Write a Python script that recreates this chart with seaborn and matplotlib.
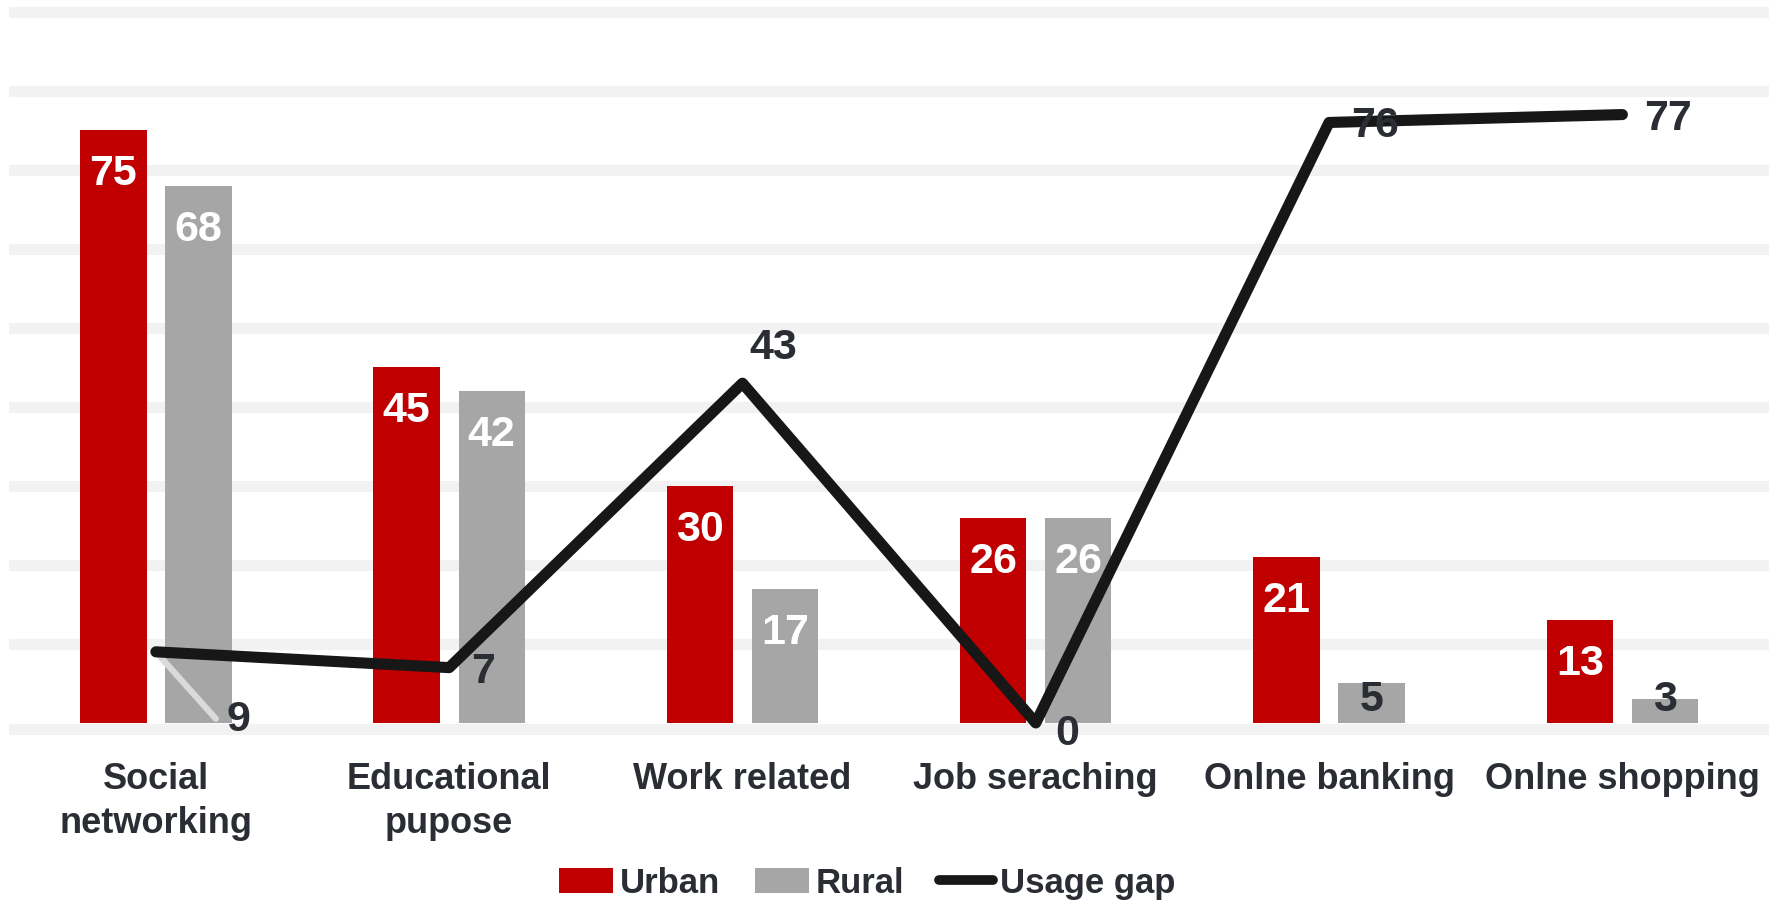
import numpy as np
import pandas as pd
import matplotlib
matplotlib.use("Agg")
import matplotlib.pyplot as plt
import seaborn as sns
from matplotlib.patches import Patch
from matplotlib.lines import Line2D

# ---- data ----
categories = ["Social\nnetworking", "Educational\npupose", "Work related",
              "Job seraching", "Onlne banking", "Onlne shopping"]
urban = [75, 45, 30, 26, 21, 13]
rural = [68, 42, 17, 26, 5, 3]
usage_gap = [9, 7, 43, 0, 76, 77]
series_names = ["Urban", "Rural"]
gap_name = "Usage gap"

# ---- styles ----
RED = "#C00000"
GRAY = "#A6A6A6"
LINE = "#171717"
TXT = "#2A2D33"
GRID = "#F2F2F2"
LEADER = "#DADADA"
PX = 72 / 100.0  # points per pixel at dpi 100

sns.set_theme(style="white")
plt.rcParams["font.family"] = ["Liberation Sans", "DejaVu Sans"]
plt.rcParams["font.weight"] = "bold"

df = pd.DataFrame({
    "category": categories * 2,
    "series": [series_names[0]] * len(categories) + [series_names[1]] * len(categories),
    "value": urban + rural,
})

fig = plt.figure(figsize=(17.74, 9.02), dpi=100)
ax = fig.add_axes([0.0052, 0.181, 0.992, 0.819])
ax.set_axisbelow(True)

sns.barplot(data=df, x="category", y="value", hue="series", hue_order=series_names,
            palette=[RED, GRAY], width=0.58, gap=0.22, saturation=1,
            legend=False, errorbar=None, linewidth=0, ax=ax)

sns.lineplot(x=categories, y=usage_gap, sort=False, color=LINE, linewidth=8,
             solid_capstyle="round", solid_joinstyle="round", ax=ax, zorder=3)

ax.set_xlim(-0.5, len(categories) - 0.5)
ax.set_ylim(-2, 91.5)
ax.set_yticks(range(10, 100, 10))
ax.yaxis.grid(True, color=GRID, linewidth=8)
ax.xaxis.grid(False)
ax.axhline(-0.8, color=GRID, linewidth=8, zorder=0)
for s in ax.spines.values():
    s.set_visible(False)
ax.tick_params(axis="y", labelleft=False, length=0)
ax.tick_params(axis="x", length=0, pad=17, labelsize=26, labelcolor=TXT)
ax.set_xlabel("")
ax.set_ylabel("")
for lab in ax.get_xticklabels():
    lab.set_fontweight("bold")
    lab.set_linespacing(1.32)

# ---- bar value labels ----
scale_px = 7.9  # pixels per data unit
for cont, vals in zip(ax.containers, [urban, rural]):
    for bar, v in zip(cont, vals):
        x = bar.get_x() + bar.get_width() / 2
        if v * scale_px >= 70:
            ax.annotate(f"{v}", (x, v), xytext=(0, -55 * PX), textcoords="offset points",
                        ha="center", va="baseline", color="white", fontsize=31,
                        fontweight="bold", zorder=4)
        else:
            ax.annotate(f"{v}", (x, 0), xytext=(0, 12 * PX), textcoords="offset points",
                        ha="center", va="baseline", color=TXT, fontsize=31,
                        fontweight="bold", zorder=4)

# ---- usage gap labels ----
offsets = {0: (71, -79), 2: (7, 24), 3: (19, -22)}
for i, v in enumerate(usage_gap):
    dx, dy = offsets.get(i, (22, -15))
    ax.annotate(f"{v}", (i, v), xytext=(dx * PX, dy * PX), textcoords="offset points",
                ha="left", va="baseline", color=TXT, fontsize=31, fontweight="bold",
                zorder=5)
# leader line for the first label
ax.annotate("", (0, usage_gap[0]), xytext=(60 * PX, -67 * PX), textcoords="offset points",
            arrowprops=dict(arrowstyle="-", color=LEADER, lw=4.5, shrinkA=0, shrinkB=0),
            zorder=2.5)

# ---- legend ----
handles = [Patch(facecolor=RED, edgecolor="none"),
           Patch(facecolor=GRAY, edgecolor="none"),
           Line2D([0], [0], color=LINE, lw=7, solid_capstyle="round")]
leg = fig.legend(handles, series_names + [gap_name], loc="center",
                 bbox_to_anchor=(0.489, 0.021), ncol=3, frameon=False,
                 fontsize=25, handlelength=1.55, handletextpad=0.2,
                 columnspacing=1.0, handleheight=0.7)
for t in leg.get_texts():
    t.set_color(TXT)
    t.set_fontweight("bold")

fig.savefig("out.png", dpi=100, facecolor="white")
